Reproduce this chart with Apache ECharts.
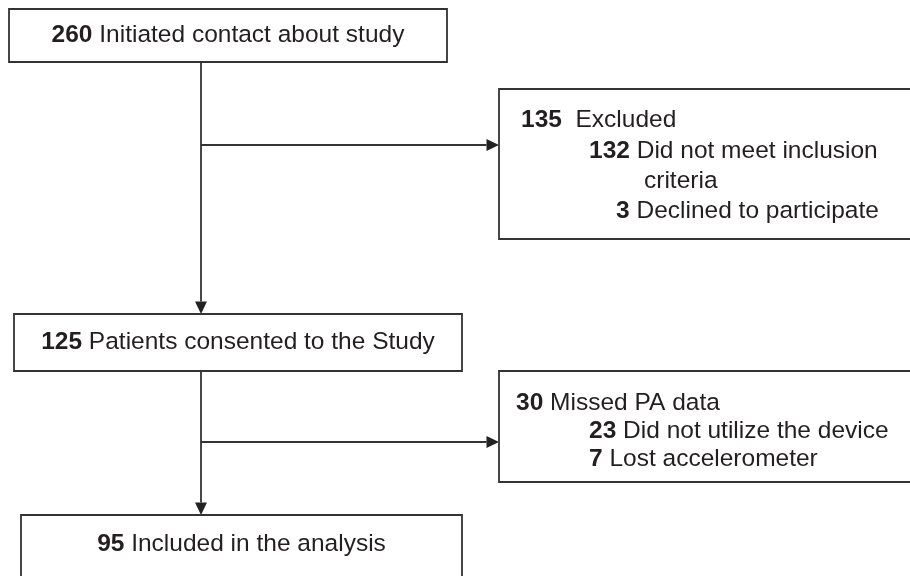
<!DOCTYPE html>
<html><head><meta charset="utf-8">
<script src="https://cdn.jsdelivr.net/npm/echarts@6/dist/echarts.min.js"></script>
<style>html,body{margin:0;padding:0;background:#fff;overflow:hidden}#c{width:910px;height:576px}</style>
</head><body><div id="c"></div>
<script>
// ---- data ----
const mainCounts = [260, 125, 95];
const mainLabels = ['Initiated contact about study', 'Patients consented to the Study', 'Included in the analysis'];
const excludedCounts = [135, 132, null, 3];
const excludedLabels = [' Excluded', 'Did not meet inclusion', 'criteria', 'Declined to participate'];
const missedCounts = [30, 23, 7];
const missedLabels = ['Missed PA data', 'Did not utilize the device', 'Lost accelerometer'];

// ---- layout (pixel space of hidden axes) ----
const mainBoxes = [[9, 9, 447, 62], [14, 314, 462, 371], [21, 515, 462, 620]];
const mainTextY = [35.5, 342.5, 544];
const sideBoxes = [[499, 89, 1000, 239], [499, 371, 1000, 482]];
const sideLines = [
  [[521, 120], [589, 151], [644, 181], [616, 211]],
  [[516, 403], [589, 431], [589, 459]]
];
const connectors = [
  [201, 62, 201, 314, 'down'],
  [201, 145, 499, 145, 'right'],
  [201, 371, 201, 515, 'down'],
  [201, 442, 499, 442, 'right']
];

const FONT = 'Liberation Sans, Arial, sans-serif';
const FS = 24.5;
const TXT = '#231f20';
const LINE = '#333333';
const LW = 1.8;

function fmt(c, l) { return c == null ? l : '{b|' + c + '} ' + l; }
const rich = { b: { fontWeight: 'bold', fontSize: FS, fontFamily: FONT, fill: TXT } };

const chart = echarts.init(document.getElementById('c'), null, { renderer: 'canvas' });
chart.setOption({
  animation: false,
  backgroundColor: '#ffffff',
  grid: { left: 0, right: 0, top: 0, bottom: 0 },
  xAxis: { type: 'value', min: 0, max: 910, show: false },
  yAxis: { type: 'value', min: 0, max: 576, inverse: true, show: false },
  series: [
    {
      type: 'custom', clip: false,
      data: connectors.map((c, i) => [i]),
      renderItem: function (params, api) {
        const c = connectors[api.value(0)];
        const a = api.coord([c[0], c[1]]), b = api.coord([c[2], c[3]]);
        const children = [];
        const L = 12.5, W = 6;
        let end;
        if (c[4] === 'down') {
          end = [b[0], b[1] - L];
          children.push({ type: 'polygon', shape: { points: [[b[0] - W, b[1] - L], [b[0] + W, b[1] - L], [b[0], b[1]]] }, style: { fill: '#222' } });
        } else {
          end = [b[0] - L, b[1]];
          children.push({ type: 'polygon', shape: { points: [[b[0] - L, b[1] - W], [b[0] - L, b[1] + W], [b[0], b[1]]] }, style: { fill: '#222' } });
        }
        children.unshift({ type: 'line', shape: { x1: a[0], y1: a[1], x2: end[0], y2: end[1] }, style: { stroke: LINE, lineWidth: LW } });
        return { type: 'group', children: children };
      }
    },
    {
      type: 'custom', clip: false,
      data: mainCounts.map((v, i) => [i, v]),
      renderItem: function (params, api) {
        const i = api.value(0);
        const r = mainBoxes[i];
        const p1 = api.coord([r[0], r[1]]), p2 = api.coord([r[2], r[3]]);
        const t = api.coord([(r[0] + r[2]) / 2, mainTextY[i]]);
        return {
          type: 'group', children: [
            { type: 'rect', shape: { x: p1[0], y: p1[1], width: p2[0] - p1[0], height: p2[1] - p1[1] }, style: { fill: '#fff', stroke: LINE, lineWidth: LW } },
            { type: 'text', x: t[0], y: t[1], style: { text: fmt(mainCounts[i], mainLabels[i]), rich: rich, fontSize: FS, fontFamily: FONT, fill: TXT, align: 'center', verticalAlign: 'middle' } }
          ]
        };
      }
    },
    {
      type: 'custom', clip: false,
      data: [[0], [1]],
      renderItem: function (params, api) {
        const i = api.value(0);
        const r = sideBoxes[i];
        const p1 = api.coord([r[0], r[1]]), p2 = api.coord([r[2], r[3]]);
        const counts = i === 0 ? excludedCounts : missedCounts;
        const labels = i === 0 ? excludedLabels : missedLabels;
        const children = [
          { type: 'polyline', shape: { points: [[p2[0], p1[1]], [p1[0], p1[1]], [p1[0], p2[1]], [p2[0], p2[1]]] }, style: { fill: null, stroke: LINE, lineWidth: LW } }
        ];
        sideLines[i].forEach((pos, k) => {
          const t = api.coord(pos);
          children.push({ type: 'text', x: t[0], y: t[1], style: { text: fmt(counts[k], labels[k]), rich: rich, fontSize: FS, fontFamily: FONT, fill: TXT, align: 'left', verticalAlign: 'middle' } });
        });
        return { type: 'group', children: children };
      }
    }
  ]
});
</script>
</body></html>
